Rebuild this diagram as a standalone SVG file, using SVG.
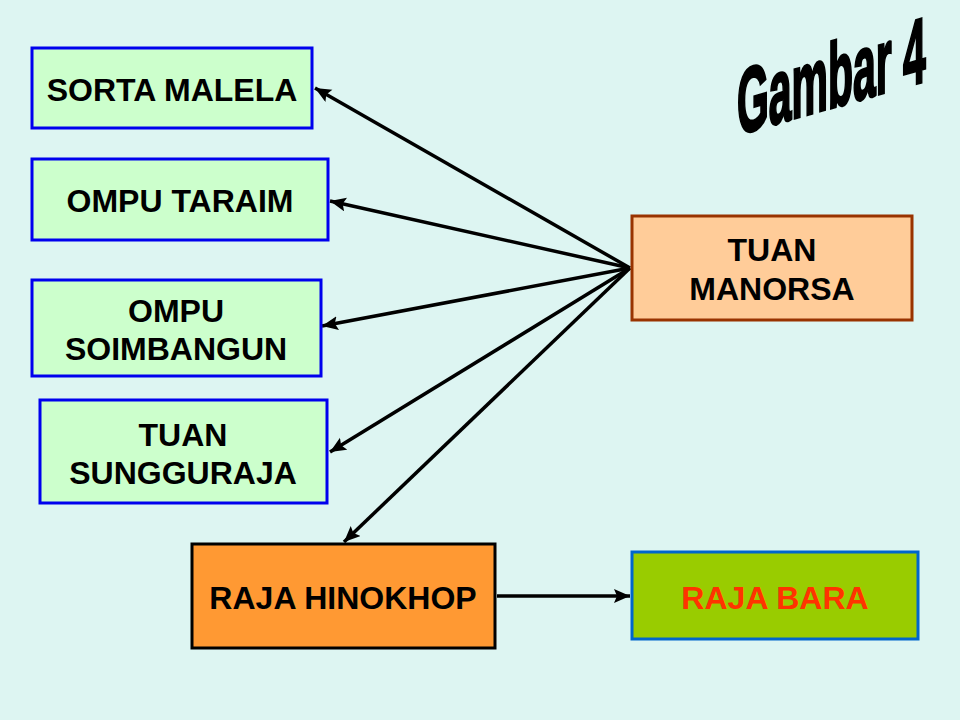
<svg xmlns="http://www.w3.org/2000/svg" width="960" height="720" viewBox="0 0 960 720">
<defs>
<style>
.box{stroke-width:3}
.g{fill:#ccffcc;stroke:#0000ee}
.t{font-family:"Liberation Sans",Arial,sans-serif;font-weight:bold;font-size:32px;text-anchor:middle;fill:#000}
.c{stroke:#000;stroke-width:3.5;fill:none;marker-end:url(#ah)}
</style>
<marker id="ah" markerUnits="userSpaceOnUse" markerWidth="18" markerHeight="16" refX="16" refY="7" orient="auto">
<path d="M0,0 L16,7 L0,14 L3,7 Z" fill="#000"/>
</marker>
</defs>
<rect width="960" height="720" fill="#ddf5f2"/>
<g id="title">
<text transform="translate(737,135) skewY(-16) scale(0.445,1)" x="0" y="0" font-family="Liberation Sans,Arial,sans-serif" font-weight="bold" font-size="92" fill="#000" stroke="#000" stroke-width="3">Gambar 4</text>
</g>
<g id="connectors">
<line class="c" x1="630" y1="268" x2="315" y2="88"/>
<line class="c" x1="630" y1="268" x2="330" y2="201"/>
<line class="c" x1="630" y1="268" x2="322" y2="326"/>
<line class="c" x1="630" y1="268" x2="330" y2="452"/>
<line class="c" x1="630" y1="268" x2="344" y2="542"/>
<line class="c" x1="497" y1="596" x2="630" y2="596"/>
</g>
<g id="sorta-malela">
<rect class="box g" x="32" y="48" width="280" height="80"/>
<text class="t" x="172" y="101">SORTA MALELA</text>
</g>
<g id="ompu-taraim">
<rect class="box g" x="32" y="159" width="296" height="81"/>
<text class="t" x="180" y="212">OMPU TARAIM</text>
</g>
<g id="ompu-soimbangun">
<rect class="box g" x="32" y="280" width="289" height="96"/>
<text class="t" x="176" y="322">OMPU</text>
<text class="t" x="176" y="360">SOIMBANGUN</text>
</g>
<g id="tuan-sungguraja">
<rect class="box g" x="40" y="400" width="287" height="103"/>
<text class="t" x="183" y="446">TUAN</text>
<text class="t" x="183" y="484">SUNGGURAJA</text>
</g>
<g id="tuan-manorsa">
<rect class="box" x="632" y="216" width="280" height="104" fill="#ffcc99" stroke="#993300"/>
<text class="t" x="772" y="261">TUAN</text>
<text class="t" x="772" y="300">MANORSA</text>
</g>
<g id="raja-hinokhop">
<rect class="box" x="192" y="544" width="303" height="104" fill="#ff9933" stroke="#000"/>
<text class="t" x="343" y="609">RAJA HINOKHOP</text>
</g>
<g id="raja-bara">
<rect class="box" x="632" y="552" width="286" height="87" fill="#99cc00" stroke="#0066cc"/>
<text class="t" x="775" y="609" style="fill:#ff3300">RAJA BARA</text>
</g>
</svg>
